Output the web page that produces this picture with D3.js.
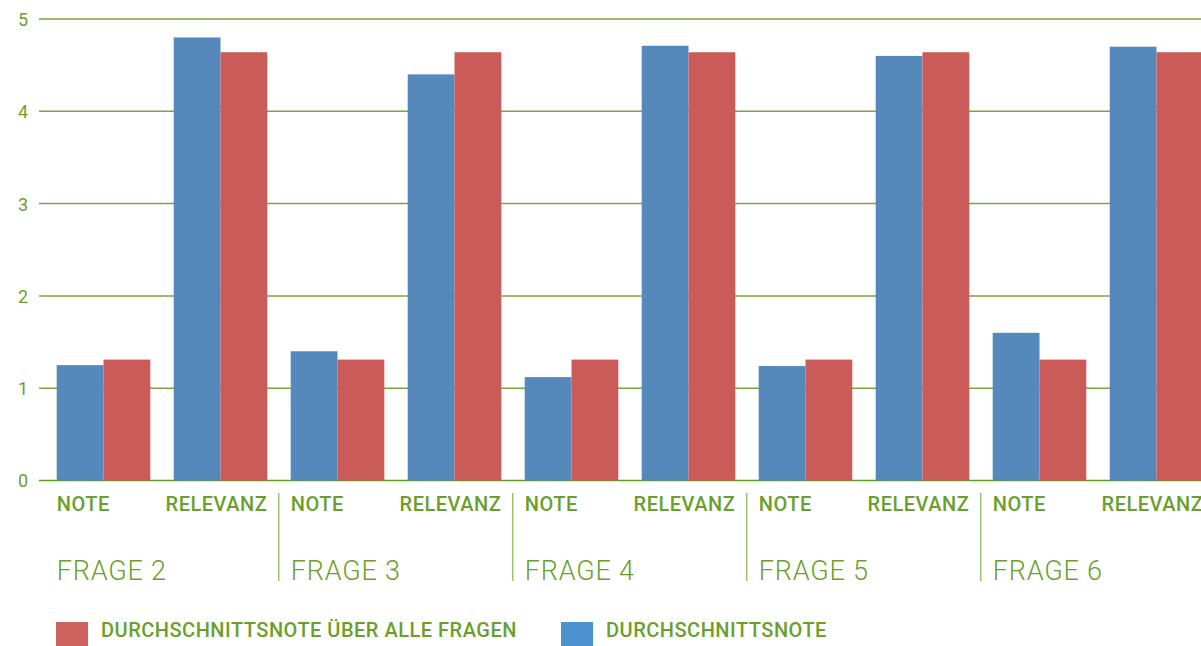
<!DOCTYPE html>
<html>
<head>
<meta charset="utf-8">
<script src="https://cdn.jsdelivr.net/npm/d3@7"></script>
<style>
  body { margin: 0; background: #fff; }
  svg { display: block; font-family: Roboto, 'DejaVu Sans', sans-serif; }
</style>
</head>
<body>
<svg width="1201" height="646"></svg>
<script>
// data
const groups = ["FRAGE 2", "FRAGE 3", "FRAGE 4", "FRAGE 5", "FRAGE 6"];
const subs = ["NOTE", "RELEVANZ"];
const noteValues = [1.25, 1.40, 1.12, 1.24, 1.60];
const relevanzValues = [4.80, 4.40, 4.71, 4.60, 4.70];
const avgValues = [1.31, 4.64]; // NOTE, RELEVANZ average across all questions
const yTicks = [0, 1, 2, 3, 4, 5];
const legendLabels = ["DURCHSCHNITTSNOTE ÜBER ALLE FRAGEN", "DURCHSCHNITTSNOTE"];

const green = '#6a9f2c';
const blue = '#5588bb';
const red = '#cb5b59';

// build the flat table: one row per (group, sub)
let data = [];
groups.forEach((g, i) => {
  data.push({ group: g, sub: subs[0], key: g + '|' + subs[0], own: noteValues[i], avg: avgValues[0] });
  data.push({ group: g, sub: subs[1], key: g + '|' + subs[1], own: relevanzValues[i], avg: avgValues[1] });
});

const svg = d3.select('svg');

const x0 = d3.scaleBand().
  domain(data.map(d => d.key)).
  range([45, 1215]).
  paddingInner(0.2).
  paddingOuter(0.1);

const x1 = d3.scaleBand().
  domain(['own', 'avg']).
  range([0, x0.bandwidth()]);

const y = d3.scaleLinear().
  domain([0, 5]).
  range([480.5, 19]);

// grid lines
svg.append('g').
  selectAll('line').
  data(yTicks).
  enter().append('line').
  attr('x1', 39).
  attr('x2', 1201).
  attr('y1', d => y(d)).
  attr('y2', d => y(d)).
  attr('stroke', d => d === 0 ? '#5fa11e' : '#7aa63f').
  attr('stroke-width', 1.5);

// y axis labels
const yAxis = d3.axisLeft(y).tickValues(yTicks).tickSize(0).tickPadding(0).tickFormat(d3.format('d'));
const yg = svg.append('g').
  attr('transform', 'translate(28,0)').
  call(yAxis);
yg.select('.domain').remove();
yg.selectAll('text').
  attr('fill', green).
  attr('font-size', 18).
  attr('dy', '0.36em').
  attr('font-family', 'Roboto, sans-serif');

// bars
const cat = svg.append('g').
  selectAll('g').
  data(data).
  enter().append('g').
  attr('transform', d => `translate(${x0(d.key)},0)`);

cat.append('rect').
  attr('x', x1('own')).
  attr('width', x1.bandwidth()).
  attr('y', d => y(d.own)).
  attr('height', d => y(0) - y(d.own)).
  attr('fill', blue);

cat.append('rect').
  attr('x', x1('avg')).
  attr('width', x1.bandwidth()).
  attr('y', d => y(d.avg)).
  attr('height', d => y(0) - y(d.avg)).
  attr('fill', red);

// sub category labels
cat.append('text').
  attr('x', d => d.sub === 'NOTE' ? 0 : x0.bandwidth()).
  attr('y', 511).
  attr('text-anchor', d => d.sub === 'NOTE' ? 'start' : 'end').
  attr('fill', green).
  attr('font-size', 20).
  attr('font-weight', 500).
  attr('letter-spacing', 0.5).
  text(d => d.sub);

// group labels and separators
const grp = svg.append('g').
  selectAll('g').
  data(groups).
  enter().append('g').
  attr('transform', d => `translate(${x0(d + '|' + subs[0])},0)`);

grp.append('text').
  attr('x', 0).
  attr('y', 580).
  attr('fill', green).
  attr('font-size', 27).
  attr('font-weight', 300).
  attr('letter-spacing', 0.8).
  text(d => d);

grp.filter((d, i) => i > 0).
  append('line').
  attr('x1', -12).
  attr('x2', -12).
  attr('y1', 493).
  attr('y2', 581).
  attr('stroke', '#9cc26a').
  attr('stroke-width', 1.5);

// legend
const legend = svg.append('g').
  selectAll('g').
  data(legendLabels).
  enter().append('g').
  attr('transform', (d, i) => `translate(${i === 0 ? 56 : 561},622)`);

legend.append('rect').
  attr('width', 32).
  attr('height', 24).
  attr('fill', (d, i) => i === 0 ? '#cd625c' : '#4a92d0');

legend.append('text').
  attr('x', 45).
  attr('y', 15).
  attr('fill', green).
  attr('font-size', 20).
  attr('font-weight', 500).
  attr('letter-spacing', 0.5).
  text(d => d);
</script>
</body>
</html>
